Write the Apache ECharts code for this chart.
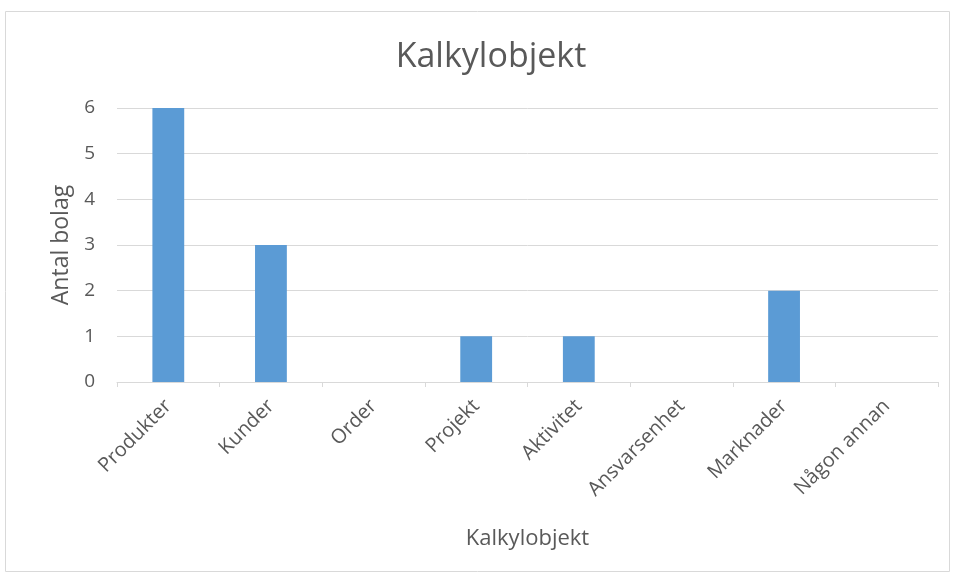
<!DOCTYPE html>
<html><head><meta charset="utf-8">
<script src="https://cdn.jsdelivr.net/npm/echarts@6/dist/echarts.min.js"></script>
<style>html,body{margin:0;padding:0;background:#fff;}#c{width:955px;height:576px;}</style>
</head><body><div id="c"></div>
<script>
const categories = ["Produkter","Kunder","Order","Projekt","Aktivitet","Ansvarsenhet","Marknader","Någon annan"];
const values = [6,3,0,1,1,0,2,0];
const yTicks = [0,1,2,3,4,5,6];
const chart = echarts.init(document.getElementById('c'));
const font = '"Open Sans", "Noto Sans", sans-serif';
chart.setOption({
  animation:false,
  graphic:[{type:'rect',shape:{x:5.5,y:11.5,width:944,height:560},style:{fill:'none',stroke:'#d9d9d9',lineWidth:1}}],
  title:{text:'Kalkylobjekt',left:486,top:35,textAlign:'center',textStyle:{fontFamily:font,fontSize:34,fontWeight:'normal',color:'#595959'}},
  grid:{left:117,right:17,top:108,bottom:194,containLabel:false},
  xAxis:{type:'category',data:categories,
    axisLine:{lineStyle:{color:'#d9d9d9'}},
    axisTick:{show:true,alignWithLabel:false,length:5,lineStyle:{color:'#d9d9d9'}},
    axisLabel:{rotate:45,color:'#595959',fontFamily:font,fontSize:20,margin:21,interval:0},
    name:'Kalkylobjekt',nameLocation:'middle',nameGap:146,
    nameTextStyle:{color:'#595959',fontFamily:font,fontSize:22}},
  yAxis:{type:'value',min:yTicks[0],max:yTicks[yTicks.length-1],interval:1,
    axisLine:{show:false},axisTick:{show:false},
    splitLine:{lineStyle:{color:'#d9d9d9'}},
    axisLabel:{color:'#595959',fontFamily:font,fontSize:19,margin:22},
    name:'Antal bolag',nameLocation:'middle',nameGap:44,
    nameTextStyle:{color:'#595959',fontFamily:font,fontSize:23}},
  series:[{type:'bar',data:values,barWidth:'31%',itemStyle:{color:'#5B9BD5'}}]
});
</script></body></html>
